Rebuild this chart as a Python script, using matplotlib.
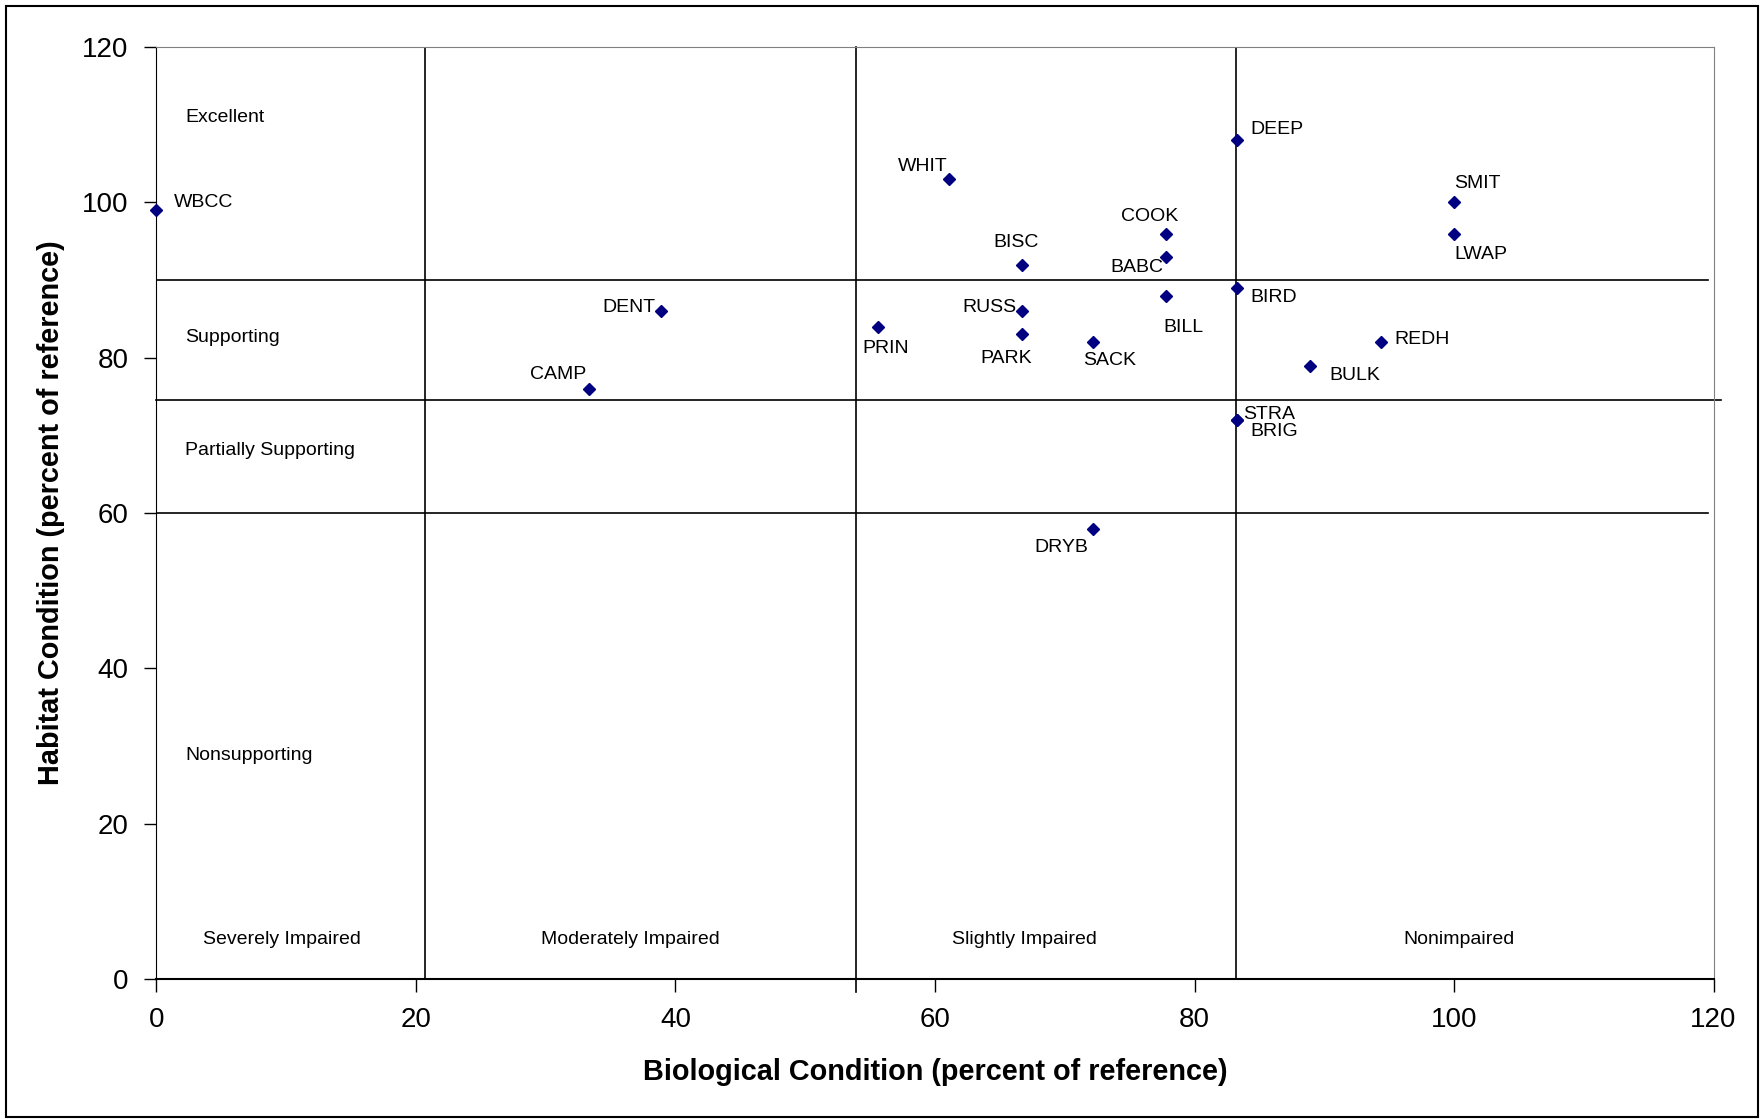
"""
Habitat condition vs biological condition for the stream sites,
with the impairment / habitat-class boundaries drawn as a grid.
"""

import matplotlib
matplotlib.use("Agg")
import matplotlib.pyplot as plt
from matplotlib.patches import Rectangle

plt.rcParams['font.family'] = ['Liberation Sans', 'DejaVu Sans']

# ----- data (percent of reference)
sites = ["WBCC", "DEEP", "WHIT", "SMIT", "COOK", "LWAP", "BABC", "BISC", "BIRD", "DENT",
         "RUSS", "BILL", "PRIN", "PARK", "SACK", "REDH", "BULK", "CAMP", "STRA", "BRIG", "DRYB"]
biological = [0.0, 83.3, 61.1, 100.0, 77.8, 100.0, 77.8, 66.7, 83.3, 38.9,
              66.7, 77.8, 55.6, 66.7, 72.2, 94.4, 88.9, 33.3, 83.3, 83.3, 72.2]
habitat = [99, 108, 103, 100, 96, 96, 93, 92, 89, 86,
           86, 88, 84, 83, 82, 82, 79, 76, 72, 72, 58]

# class boundaries
bio_breaks = [20.7, 53.9, 83.2]
hab_breaks = [90, 74.6, 60]

hab_classes = ["Excellent", "Supporting", "Partially Supporting", "Nonsupporting"]
bio_classes = ["Severely Impaired", "Moderately Impaired", "Slightly Impaired", "Nonimpaired"]

# label placement for each site: (dx, dy in pixels, horizontal alignment)
label_offsets = {
    "WBCC": (17, 8, "left"), "DEEP": (13, 11, "left"), "WHIT": (-2, 13, "right"),
    "SMIT": (0, 19, "left"), "COOK": (-16, 17, "center"), "LWAP": (0, -21, "left"),
    "BABC": (-3, -11, "right"), "BISC": (-6, 22, "center"), "BIRD": (13, -10, "left"),
    "DENT": (-6, 4, "right"), "RUSS": (-5, 4, "right"), "BILL": (-3, -32, "left"),
    "PRIN": (-16, -22, "left"), "PARK": (-16, -24, "center"), "SACK": (-10, -18, "left"),
    "REDH": (13, 3, "left"), "BULK": (19, -10, "left"), "CAMP": (-2, 14, "right"),
    "STRA": (6, 5, "left"), "BRIG": (13, -12, "left"), "DRYB": (-5, -19, "right"),
}

fig = plt.figure(figsize=(17.64, 11.19), dpi=100)
ax = fig.add_axes([0.0887, 0.1253, 0.8827, 0.8325])

# outer frame round the whole chart
fig.patches.append(Rectangle((0.0034, 0.0018), 0.9932, 0.9928, transform=fig.transFigure,
                             fill=False, edgecolor="black", linewidth=1.5))

ax.set_xlim(0, 120)
ax.set_ylim(0, 120)

# grid of class boundaries
ax.plot([bio_breaks[0]] * 2, [0, 120], color="black", lw=1.2)
ax.plot([bio_breaks[1]] * 2, [-1.7, 120], color="black", lw=1.2, clip_on=False)
ax.plot([bio_breaks[2]] * 2, [0, 120], color="black", lw=1.2)
ax.plot([0, 119.6], [hab_breaks[0]] * 2, color="black", lw=1.2)
ax.plot([0, 120.6], [hab_breaks[1]] * 2, color="black", lw=1.2, clip_on=False)
ax.plot([0, 119.6], [hab_breaks[2]] * 2, color="black", lw=1.2)

ax.plot(biological, habitat, "D", color="#000080", markersize=6, clip_on=False, zorder=5)

for name, bx, hy in zip(sites, biological, habitat):
    dx, dy, ha = label_offsets[name]
    ax.annotate(name, (bx, hy), xytext=(dx, dy), textcoords="offset pixels",
                ha=ha, va="center", fontsize=14)

# class names
for txt, yy in zip(hab_classes, [111, 82.6, 68.1, 28.7]):
    ax.text(2.2, yy, txt, ha="left", va="center", fontsize=14)
for txt, xx in zip(bio_classes, [9.7, 36.5, 66.9, 100.4]):
    ax.text(xx, 5.1, txt, ha="center", va="center", fontsize=14)

ax.set_xticks(range(0, 121, 20))
ax.set_yticks(range(0, 121, 20))
ax.tick_params(direction="out", length=9, width=1, pad=11, labelsize=20)

ax.spines["top"].set_color("#808080")
ax.spines["right"].set_color("#808080")
ax.spines["bottom"].set_linewidth(1.5)

ax.set_xlabel("Biological Condition (percent of reference)", fontsize=20.8,
              fontweight="bold", va="center")
ax.xaxis.set_label_coords(0.5, -0.1005)
ax.set_ylabel("Habitat Condition (percent of reference)", fontsize=20.8,
              fontweight="bold", va="center")
ax.yaxis.set_label_coords(-0.068, 0.5)

fig.savefig("out.png", dpi=100)
